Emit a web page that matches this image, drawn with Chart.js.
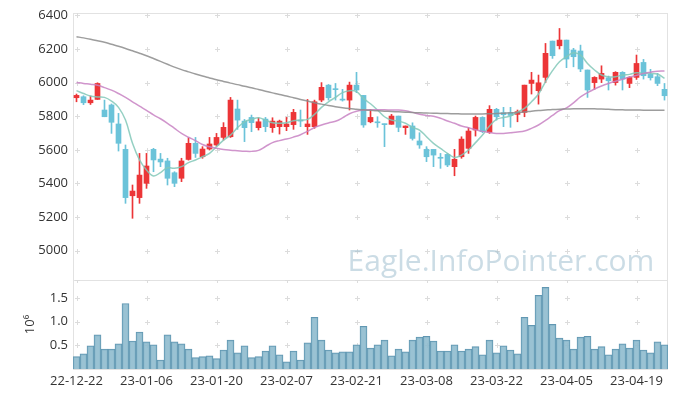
<!DOCTYPE html>
<html>
<head>
<meta charset="utf-8">
<script src="https://cdn.jsdelivr.net/npm/chart.js@4/dist/chart.umd.min.js"></script>
<style>
html,body{margin:0;padding:0;background:#fff;}
#wrap{width:677px;height:398px;position:relative;}
#c1{position:absolute;left:0;top:0;}
#c2{position:absolute;left:0;top:280px;}
</style>
</head>
<body>
<div id="wrap">
<canvas id="c1" width="677" height="280"></canvas>
<canvas id="c2" width="677" height="118"></canvas>
</div>
<script>
const dates = ["22-12-22","22-12-23","22-12-26","22-12-27","22-12-28","22-12-29","23-01-02","23-01-03","23-01-04","23-01-05",
"23-01-06","23-01-09","23-01-10","23-01-11","23-01-12","23-01-13","23-01-16","23-01-17","23-01-18","23-01-19",
"23-01-20","23-01-25","23-01-26","23-01-27","23-01-30","23-01-31","23-02-01","23-02-02","23-02-03","23-02-06",
"23-02-07","23-02-08","23-02-09","23-02-10","23-02-13","23-02-14","23-02-15","23-02-16","23-02-17","23-02-20",
"23-02-21","23-02-22","23-02-23","23-02-24","23-02-27","23-02-28","23-03-02","23-03-03","23-03-06","23-03-07",
"23-03-08","23-03-09","23-03-10","23-03-13","23-03-14","23-03-15","23-03-16","23-03-17","23-03-20","23-03-21",
"23-03-22","23-03-23","23-03-24","23-03-27","23-03-28","23-03-29","23-03-30","23-03-31","23-04-03","23-04-04",
"23-04-05","23-04-06","23-04-07","23-04-10","23-04-11","23-04-12","23-04-13","23-04-14","23-04-17","23-04-18",
"23-04-19","23-04-20","23-04-21","23-04-24","23-04-25"];
const tickDates = ["22-12-22","23-01-06","23-01-20","23-02-07","23-02-21","23-03-08","23-03-22","23-04-05","23-04-19"];
const priceTicks = [5000,5200,5400,5600,5800,6000,6200,6400];
const volumeTicks = [500000,1000000,1500000];

const open = [5910,5916,5880,5900,5837,5867,5754,5603,5327,5316,
5401,5603,5545,5534,5464,5431,5543,5639,5559,5605,
5629,5674,5678,5843,5771,5793,5732,5783,5732,5738,
5738,5750,5777,5738,5738,5896,5985,5963,5900,5896,
5985,5924,5767,5765,5752,5752,5801,5732,5742,5653,
5603,5603,5554,5573,5500,5559,5609,5718,5793,5704,
5841,5821,5821,5811,5823,5995,5952,6031,6247,6219,
6253,6194,6188,6075,6000,6021,6029,6000,6061,5995,
6031,6120,6049,6035,5960];
const high = [5932,5922,5920,5999,5896,5873,5817,5629,5391,5579,
5579,5609,5579,5550,5470,5550,5672,5674,5619,5674,
5698,5762,5912,5896,5781,5807,5791,5793,5791,5777,
5793,5841,5837,5900,5896,6000,5989,5995,5960,6003,
6061,5924,5841,5797,5754,5811,5801,5742,5761,5702,
5619,5603,5579,5579,5603,5678,5732,5801,5797,5863,
5847,5853,5853,5837,5985,6061,6045,6233,6247,6322,
6253,6204,6223,6075,6035,6100,6039,6065,6065,6035,
6164,6138,6079,6055,5995];
const low = [5886,5869,5870,5900,5797,5698,5593,5282,5193,5282,
5371,5470,5500,5391,5381,5411,5539,5555,5550,5599,
5623,5658,5674,5722,5649,5708,5718,5708,5704,5694,
5714,5722,5738,5692,5728,5886,5896,5896,5890,5837,
5940,5734,5761,5734,5619,5752,5708,5692,5658,5609,
5530,5500,5490,5500,5446,5550,5579,5682,5702,5698,
5777,5738,5734,5767,5797,5932,5872,6000,6144,6200,
6089,6094,6065,5912,5960,6000,5956,5985,5956,5970,
6019,6021,6015,5982,5896];
const close = [5924,5880,5896,5995,5797,5764,5639,5316,5355,5450,
5504,5540,5528,5431,5401,5534,5639,5579,5605,5635,
5674,5734,5896,5777,5732,5762,5767,5738,5771,5771,
5754,5823,5771,5754,5886,5972,5910,5958,5896,5985,
5956,5748,5793,5761,5750,5801,5734,5742,5668,5629,
5559,5569,5550,5510,5544,5664,5712,5793,5708,5841,
5797,5809,5805,5827,5985,6015,5999,6174,6160,6253,
6140,6154,6081,5956,6031,6055,6011,6061,6021,6031,
6114,6041,6029,5995,5922];
const ma5 = [5952,5935,5920,5915,5912,5890,5853,5777,5639,5540,
5480,5445,5465,5494,5490,5500,5524,5540,5559,5579,
5619,5658,5688,5732,5767,5781,5791,5777,5761,5758,
5761,5773,5777,5781,5811,5853,5886,5912,5940,5952,
5946,5906,5874,5837,5797,5777,5771,5758,5734,5718,
5678,5639,5609,5579,5555,5569,5599,5643,5688,5742,
5781,5793,5801,5825,5847,5886,5932,6005,6071,6124,
6154,6178,6164,6114,6075,6045,6035,6035,6045,6049,
6059,6055,6055,6051,6025];
const ma20 = [6001,5995,5990,5984,5970,5955,5935,5912,5886,5860,
5835,5808,5785,5758,5728,5698,5675,5655,5632,5618,
5609,5602,5598,5595,5592,5591,5597,5620,5643,5655,
5664,5676,5690,5710,5733,5748,5760,5770,5790,5815,
5830,5837,5838,5838,5838,5837,5837,5832,5823,5812,
5805,5800,5788,5772,5758,5742,5732,5720,5710,5703,
5698,5698,5702,5706,5712,5728,5748,5775,5805,5833,
5850,5880,5915,5940,5962,5980,5995,6008,6020,6033,
6043,6055,6062,6068,6069];
const ma60 = [6273,6266,6258,6249,6240,6228,6216,6203,6189,6175,
6160,6143,6126,6109,6092,6077,6064,6051,6039,6028,
6017,6007,5997,5988,5978,5969,5959,5949,5939,5929,
5920,5910,5900,5890,5880,5872,5864,5857,5851,5846,
5842,5838,5835,5832,5830,5828,5826,5824,5822,5820,
5819,5818,5817,5816,5815,5814,5813,5813,5814,5815,
5816,5818,5820,5822,5825,5830,5834,5837,5840,5842,
5843,5844,5845,5845,5844,5843,5841,5839,5838,5837,
5837,5836,5836,5836,5836];
const volume = [260000,320000,490000,720000,420000,420000,530000,1380000,590000,780000,
570000,510000,190000,720000,570000,530000,420000,240000,260000,280000,
220000,400000,610000,340000,490000,240000,260000,380000,490000,300000,
150000,380000,190000,550000,1090000,610000,400000,340000,360000,360000,
510000,900000,440000,510000,610000,280000,420000,360000,610000,670000,
690000,590000,380000,380000,510000,380000,420000,470000,300000,610000,
340000,490000,400000,320000,1090000,920000,1550000,1720000,940000,650000,
610000,420000,670000,690000,420000,470000,300000,420000,530000,440000,
610000,400000,340000,570000,510000];

const UP = '#ec3537', DOWN = '#6bc3d9';
const candleColors = open.map((o,i)=> close[i] >= o ? UP : DOWN);
const FONT = {family:'"Open Sans", "DejaVu Sans", sans-serif', size:13};
const TXT = '#333';
const LINE = '#e2e2e2';

function noPad(s){ s.paddingTop = 0; s.paddingBottom = 0; s.paddingLeft = 0; s.paddingRight = 0; }

function crossPlugin(yTicks){
  return {
    id:'crosses',
    beforeDatasetsDraw(chart){
      const ctx = chart.ctx, a = chart.chartArea;
      const xs = chart.scales.x, ys = chart.scales.y;
      ctx.save();
      ctx.strokeStyle = LINE; ctx.lineWidth = 1;
      ctx.strokeRect(Math.round(a.left)+0.5, Math.round(a.top)+0.5, Math.round(a.right-a.left)-1, Math.round(a.bottom-a.top));
      ctx.strokeStyle = '#dcdcdc';
      const ysList = yTicks.map(v=>ys.getPixelForValue(v));
      if (chart.canvas.id==='c2') ysList.push(a.top);
      dates.forEach((d,i)=>{
        if (!tickDates.includes(d)) return;
        const x = Math.round(xs.getPixelForValue(i))+0.5;
        ysList.forEach(y0=>{
          const y = Math.round(y0)+0.5;
          ctx.beginPath();
          ctx.moveTo(x-2.5,y); ctx.lineTo(x+2.5,y);
          ctx.moveTo(x,y-2.5); ctx.lineTo(x,y+2.5);
          ctx.stroke();
        });
      });
      ctx.restore();
    }
  };
}
const watermark = {
  id:'wm',
  beforeDatasetsDraw(chart){
    const ctx = chart.ctx;
    ctx.save();
    ctx.font = '30px "Open Sans", sans-serif';
    ctx.fillStyle = 'rgba(160,192,208,0.55)';
    ctx.textAlign = 'center'; ctx.textBaseline = 'middle';
    ctx.fillText('Eagle.InfoPointer.com', 501, 262);
    ctx.restore();
  }
};

new Chart(document.getElementById('c1'), {
  data:{
    labels: dates,
    datasets:[
      {type:'bar', data: low.map((l,i)=>[l, high[i]]), backgroundColor: candleColors, barThickness:1, grouped:false, order:3},
      {type:'bar', data: open.map((o,i)=>[o, close[i]]), backgroundColor: candleColors, barThickness:5, grouped:false, minBarLength:1, order:2},
      {type:'line', data: ma60, borderColor:'rgba(140,140,140,0.85)', borderWidth:1.5, pointRadius:0, tension:0.4, order:1},
      {type:'line', data: ma20, borderColor:'rgba(200,130,195,0.85)', borderWidth:1.5, pointRadius:0, tension:0.4, order:1},
      {type:'line', data: ma5, borderColor:'rgba(130,200,185,0.85)', borderWidth:1.5, pointRadius:0, tension:0.4, order:1}
    ]
  },
  options:{
    responsive:false, animation:false,
    layout:{padding:{top:13, right:9, left:0, bottom:0}},
    plugins:{legend:{display:false}, tooltip:{enabled:false}},
    scales:{
      x:{display:false, offset:true},
      y:{
        min:4826, max:6414,
        afterBuildTicks(s){ s.ticks = priceTicks.map(v=>({value:v})); },
        afterFit(s){ s.width = 73; noPad(s); },
        grid:{display:false, drawTicks:false},
        border:{display:false},
        ticks:{font:FONT, color:TXT, padding:5, callback(v){ return String(v); }}
      }
    }
  },
  plugins:[crossPlugin(priceTicks), watermark]
});

new Chart(document.getElementById('c2'), {
  type:'bar',
  data:{
    labels: dates,
    datasets:[{data: volume, backgroundColor:'rgba(140,185,205,0.88)', borderColor:'rgba(80,140,170,0.9)', borderWidth:1, barPercentage:1, categoryPercentage:1}]
  },
  options:{
    responsive:false, animation:false,
    layout:{padding:{top:0, right:9, left:0, bottom:0}},
    plugins:{legend:{display:false}, tooltip:{enabled:false}},
    scales:{
      x:{
        afterFit(s){ s.height = 29; noPad(s); },
        grid:{display:false, drawTicks:false},
        border:{display:false},
        ticks:{font:FONT, color:TXT, padding:4, autoSkip:false, maxRotation:0,
          callback(v,i){ return tickDates.includes(dates[i]) ? dates[i] : ''; }}
      },
      y:{
        min:0, max:1875000,
        afterBuildTicks(s){ s.ticks = volumeTicks.map(v=>({value:v})); },
        afterFit(s){ s.width = 73; noPad(s); },
        grid:{display:false, drawTicks:false},
        border:{display:false},
        ticks:{font:FONT, color:TXT, padding:5, callback(v){ return (v/1e6).toFixed(1); }},
        title:{display:true, text:'10⁶', font:FONT, color:TXT, padding:{top:22, bottom:0}}
      }
    }
  },
  plugins:[crossPlugin(volumeTicks)]
});
</script>
</body>
</html>
